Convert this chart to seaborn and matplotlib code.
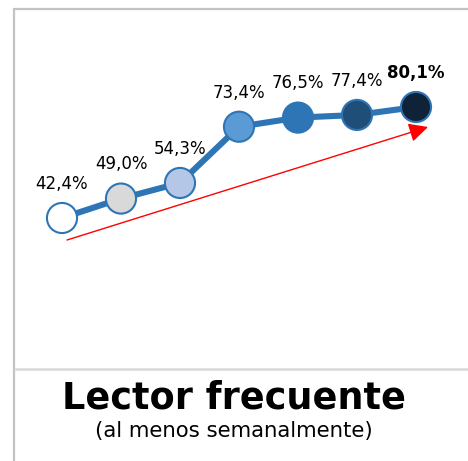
import matplotlib
matplotlib.use("Agg")
import matplotlib.pyplot as plt
from matplotlib.lines import Line2D
import seaborn as sns
import pandas as pd

# Survey waves and share of frequent readers (%)
waves = ["O1", "O2", "O3", "O4", "O5", "O6", "O7"]
values = [42.4, 49.0, 54.3, 73.4, 76.5, 77.4, 80.1]
marker_colors = ["#FFFFFF", "#D9D9D9", "#B4C7E7", "#5B9BD5", "#2E75B6", "#1F4E79", "#0F2238"]

title = "Lector frecuente"
subtitle = "(al menos semanalmente)"

sns.set_style("white")
plt.rcParams["font.family"] = ["DejaVu Sans"]

W, H = 468, 461
fig = plt.figure(figsize=(W / 100, H / 100), dpi=100)
ax = fig.add_axes([0, 0, 1, 1])

df = pd.DataFrame({"wave": waves, "pos": range(len(waves)), "value": values})

line_color = "#2E75B6"
sns.lineplot(data=df, x="pos", y="value", ax=ax, color=line_color,
             linewidth=4.4, zorder=2)
sns.scatterplot(data=df, x="pos", y="value", hue="wave",
                palette=dict(zip(waves, marker_colors)), s=470,
                edgecolor=line_color, linewidth=1.5, legend=False,
                ax=ax, zorder=3)

# value labels, comma as decimal separator; last one emphasised
for i, v in enumerate(values):
    txt = f"{v:.1f}".replace(".", ",") + "%"
    last = i == len(values) - 1
    ax.annotate(txt, (i, v), xytext=(0, 21), textcoords="offset points",
                ha="center", va="baseline", fontsize=12,
                fontweight="bold" if last else "normal", color="black")

ax.set_xlim(-62 / 59, (W - 62) / 59)
ax.set_ylim(-40.13, 116.44)
ax.set_axis_off()

# red trend arrow underneath the series
ax.annotate("", xy=(428, H - 127), xycoords="figure pixels",
            xytext=(67, H - 240), textcoords="figure pixels",
            arrowprops=dict(arrowstyle="-|>", color="red", lw=1.0,
                            mutation_scale=29, shrinkA=0, shrinkB=0))

# panel frame
frame = "#C3C3C3"
fig.add_artist(Line2D([13.5 / W, 13.5 / W], [0, 1 - 9 / H], color=frame, lw=1.6))
fig.add_artist(Line2D([13.5 / W, 1], [1 - 9 / H, 1 - 9 / H], color=frame, lw=1.6))
fig.add_artist(Line2D([15 / W, 1], [1 - 368.5 / H, 1 - 368.5 / H], color="#D9D9D9", lw=1.8))

fig.text(0.5, 1 - 408.5 / H, title, ha="center", va="baseline",
         fontsize=26.4, fontweight="bold", color="black")
fig.text(0.5, 1 - 437 / H, subtitle, ha="center", va="baseline",
         fontsize=15.3, color="black")

fig.savefig("out.png", dpi=100)
